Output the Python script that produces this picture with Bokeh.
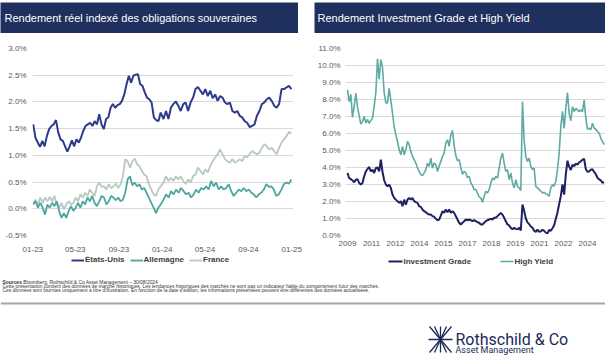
import pandas as pd
import numpy as np
from bokeh.plotting import figure
from bokeh.models import (Range1d, FixedTicker, PrintfTickFormatter, Spacer, Legend, LegendItem)
from bokeh.layouts import column, row
from bokeh.embed import file_html
from bokeh.resources import INLINE
from bokeh.core.properties import value

# ---------------- data ----------------
title_left = "Rendement réel indexé des obligations souveraines"
title_right = "Rendement Investment Grade et High Yield"

# Left chart: real yields (%), 2023 segment and 2024 segment
seg_a_start, seg_a_end = "2023-01-02", "2023-12-28"
seg_b_start, seg_b_end = "2024-01-05", "2024-12-31"

us_a = [1.58,1.33,1.24,1.16,1.27,1.17,1.36,1.49,1.55,1.58,1.66,1.43,1.30,1.27,1.17,1.07,1.17,1.28,1.17,1.30,
        1.24,1.33,1.46,1.55,1.58,1.61,1.55,1.64,1.58,1.77,1.58,1.49,1.68,1.71,1.89,1.96,1.89,1.94,1.96,2.02,
        2.14,2.33,2.49,2.36,2.49,2.51,2.52,2.33,2.30,2.18,2.08,2.05,1.99,1.71,1.66,1.64,1.80]
us_b = [1.68,1.83,1.68,1.89,1.96,2.01,1.93,1.83,1.96,1.99,1.83,1.99,2.08,2.24,2.28,2.21,2.14,2.24,2.11,2.21,
        2.07,2.14,2.02,2.11,2.08,1.99,1.96,1.99,1.83,1.80,1.83,1.74,1.71,1.64,1.61,1.53,1.55,1.58,1.74,1.83,
        1.96,1.99,2.05,2.08,2.02,1.93,1.89,1.96,2.24,2.24,2.27,2.30,2.24]
de_a = [0.08,0.14,0.02,0.11,0.02,-0.11,0.08,0.02,0.11,0.05,0.14,-0.04,-0.17,-0.08,-0.17,-0.04,0.05,-0.04,0.02,0.11,
        0.02,0.14,0.08,0.21,0.14,0.24,0.11,0.05,0.14,0.24,0.21,0.08,0.14,0.24,0.21,0.16,0.21,0.14,0.17,0.30,
        0.55,0.61,0.44,0.49,0.42,0.46,0.36,0.39,0.30,0.21,0.11,0.02,-0.08,0.02,0.08]
de_b = [0.17,0.27,0.21,0.33,0.27,0.36,0.30,0.39,0.33,0.27,0.30,0.21,0.27,0.36,0.30,0.39,0.36,0.42,0.36,0.52,
        0.42,0.49,0.36,0.42,0.36,0.39,0.46,0.33,0.24,0.30,0.36,0.33,0.39,0.33,0.36,0.30,0.27,0.21,0.27,0.30,
        0.36,0.46,0.41,0.42,0.36,0.24,0.27,0.36,0.46,0.49,0.47,0.55]
fr_a = [0.11,0.17,0.08,0.21,0.11,0.21,0.14,0.22,0.14,0.24,0.08,0.02,0.11,-0.01,0.08,0.14,0.08,0.11,0.21,0.14,
        0.27,0.21,0.30,0.24,0.36,0.30,0.24,0.42,0.49,0.41,0.42,0.36,0.46,0.39,0.42,0.47,0.39,0.46,0.61,0.93,
        0.89,0.77,0.89,0.94,0.83,0.80,0.71,0.64,0.61,0.46,0.36,0.27,0.24,0.36,0.42]
fr_b = [0.49,0.61,0.52,0.58,0.52,0.61,0.55,0.61,0.52,0.46,0.55,0.49,0.61,0.64,0.77,0.71,0.64,0.74,0.68,0.80,
        0.89,0.96,1.02,1.11,1.02,0.93,0.89,0.86,0.93,0.86,0.89,0.93,0.89,0.99,0.96,1.02,1.08,1.05,1.02,1.05,
        1.14,1.21,1.17,1.11,1.14,1.08,1.02,1.14,1.24,1.30,1.36,1.44,1.41]
left_names = ["États-Unis", "Allemagne", "France"]
left_ticks = ["2023-01-01", "2023-05-01", "2023-09-01", "2024-01-01", "2024-05-01", "2024-09-01", "2025-01-01"]
left_tick_labels = ["01-23", "05-23", "09-23", "01-24", "05-24", "09-24", "01-25"]
left_yticks = [-0.5, 0.0, 0.5, 1.0, 1.5, 2.0, 2.5, 3.0]

# Right chart: IG and HY yields (%), regular sampling over the axis span
right_start, right_end = 2009.0, 2025.04
ig = [3.68,3.38,3.32,3.24,3.13,3.28,3.32,3.09,2.99,3.09,3.48,3.77,3.91,4.03,3.77,3.87,3.68,3.97,4.00,3.77,
      4.46,3.75,3.25,3.00,2.89,2.99,2.80,2.41,2.21,2.11,2.02,1.92,2.02,1.72,2.11,1.82,2.11,2.21,2.11,2.21,
      2.02,1.96,1.92,1.72,1.68,1.53,1.43,1.37,1.29,1.23,1.23,1.14,1.10,0.98,0.90,0.94,1.17,1.43,1.33,1.53,
      1.37,1.53,1.33,1.43,1.33,1.14,0.94,0.75,0.65,0.75,0.84,0.94,0.90,0.94,0.90,0.84,0.90,
      0.84,0.78,0.75,0.65,0.65,0.75,0.84,0.90,0.94,0.98,0.94,1.04,1.04,1.14,1.23,1.33,1.23,1.04,0.84,0.65,
      0.59,0.45,0.36,0.45,0.39,0.36,0.45,0.30,1.82,1.45,1.00,0.77,0.67,0.53,0.46,0.28,0.21,0.34,0.22,0.25,
      0.34,0.27,0.17,0.13,0.33,0.28,0.43,0.60,0.98,1.35,1.85,2.31,3.00,2.40,3.60,4.40,4.05,3.85,4.16,4.07,
      4.24,4.16,4.30,4.36,4.46,4.50,3.90,3.75,3.77,3.87,3.90,3.74,3.60,3.40,3.30,3.24,3.10,3.13]
hy = [8.56,7.87,8.30,6.95,7.60,8.36,7.55,7.05,6.55,6.70,7.00,6.61,6.84,6.60,6.76,6.90,7.60,8.40,10.40,9.20,
      10.35,9.90,8.40,7.80,7.80,8.66,7.95,7.19,6.41,5.92,5.53,5.04,4.75,5.24,4.75,5.04,5.53,5.34,4.95,4.65,
      4.46,4.26,3.97,3.77,3.58,3.52,3.68,3.87,4.26,4.07,4.55,3.97,4.26,4.16,3.77,4.07,4.36,4.65,4.85,5.43,
      5.63,5.24,5.92,6.18,5.30,4.70,4.40,4.46,4.00,3.60,3.77,3.68,3.40,3.48,3.10,2.95,2.70,
      2.70,2.50,2.27,2.21,1.96,2.31,2.60,2.50,2.70,3.09,3.38,3.28,3.48,3.38,3.97,4.55,4.85,4.26,3.77,3.87,
      3.28,3.68,3.09,2.80,3.28,2.89,2.80,2.65,7.88,5.60,4.65,4.36,4.55,4.07,3.87,3.97,2.89,2.80,2.70,2.60,
      2.50,2.54,2.46,2.41,2.31,2.80,2.99,2.89,3.19,3.87,4.85,6.40,7.30,6.30,7.48,8.40,7.20,6.75,7.58,7.29,
      7.48,7.39,7.29,7.39,7.29,7.97,6.90,6.25,6.31,6.21,6.61,6.31,6.25,6.12,6.02,5.73,5.53,5.34]
right_names = ["Investment Grade", "High Yield"]
right_ticks = [2009.0, 2010.5, 2012.0, 2013.5, 2015.0, 2016.5, 2018.0, 2019.5, 2021.0, 2022.5, 2024.0]
right_tick_labels = ["2009", "2011", "2012", "2014", "2015", "2017", "2018", "2019", "2021", "2022", "2024"]
right_yticks = [0, 1, 2, 3, 4, 5, 6, 7, 8, 9, 10, 11]

sources_label = "Sources"
sources_text = " : Bloomberg, Rothschild & Co Asset Management – 30/08/2024"
disclaimer_1 = ("Cette présentation contient des données de marché historiques. Les tendances historiques des marchés "
                "ne sont pas un indicateur fiable du comportement futur des marchés.")
disclaimer_2 = ("Ces données sont fournies uniquement à titre d'illustration. En fonction de la date d'édition, "
                "les informations présentées peuvent être différentes des données actualisées.")
logo_main = "Rothschild & Co"
logo_sub = "Asset Management"

# ---------------- style ----------------
FONT = "Liberation Sans"
TITLE_BG = "#1f305e"
C_US, C_DE, C_FR = "#2e3a8c", "#4ea6a1", "#b8c9c1"
C_IG, C_HY = "#1f2260", "#5eaaa4"
GRID = "#d9d9d9"
TICK_TXT = "#595959"
LEG_TXT = "#404040"
LOGO = "#1c2a58"


def blank_fig(w, h):
    p = figure(width=w, height=h, x_range=Range1d(0, w), y_range=Range1d(h, 0),
               output_backend="svg", toolbar_location=None, min_border=0,
               x_axis_location=None, y_axis_location=None)
    p.grid.visible = False
    p.outline_line_color = None
    return p


def title_fig(text, w, h, tx):
    p = blank_fig(w, h)
    p.background_fill_color = TITLE_BG
    p.border_fill_color = TITLE_BG
    p.text(x=[tx], y=[h / 2], text=[text], text_color="white", text_font=value(FONT),
           text_font_size="11px", text_baseline="middle", text_align="left")
    return p


def style_axes(p, standoff_x, standoff_y):
    for ax in (p.xaxis[0], p.yaxis[0]):
        ax.axis_line_color = None
        ax.major_tick_line_color = None
        ax.minor_tick_line_color = None
        ax.major_tick_out = 0
        ax.major_tick_in = 0
        ax.major_label_text_font = FONT
        ax.major_label_text_font_size = "8px"
        ax.major_label_text_color = TICK_TXT
    p.xaxis[0].major_label_standoff = standoff_x
    p.yaxis[0].major_label_standoff = standoff_y
    p.xgrid.visible = False
    p.ygrid.grid_line_color = GRID
    p.ygrid.grid_line_width = 1
    p.outline_line_color = None
    p.yaxis[0].formatter = PrintfTickFormatter(format="%.1f%%")


def ts(s):
    return pd.Timestamp(s)

# ---------------- left chart ----------------
pl = figure(width=305, height=223, x_axis_type="datetime",
            x_range=Range1d(ts("2022-12-31"), ts("2025-01-06")), y_range=Range1d(-0.5, 3.0),
            output_backend="svg", toolbar_location=None,
            min_border_left=32, min_border_right=12, min_border_top=14, min_border_bottom=21)
style_axes(pl, 11, 6)
pl.yaxis[0].ticker = FixedTicker(ticks=left_yticks)
tick_ms = [ts(t).value // 10**6 for t in left_ticks]
pl.xaxis[0].ticker = FixedTicker(ticks=tick_ms)
pl.xaxis[0].major_label_overrides = {m: lab for m, lab in zip(tick_ms, left_tick_labels)}

series = {"us": (us_a, us_b, C_US, 2.0), "de": (de_a, de_b, C_DE, 1.8), "fr": (fr_a, fr_b, C_FR, 1.8)}
for key in ["fr", "de", "us"]:
    a, b, col, w = series[key]
    xs = list(pd.date_range(seg_a_start, seg_a_end, periods=len(a))) + \
         list(pd.date_range(seg_b_start, seg_b_end, periods=len(b)))
    pl.line(xs, a + b, line_color=col, line_width=w)

# ---------------- right chart ----------------
pr = figure(width=300, height=223, x_range=Range1d(2008.875, 2025.125), y_range=Range1d(0, 11),
            output_backend="svg", toolbar_location=None,
            min_border_left=40, min_border_right=0, min_border_top=15, min_border_bottom=19)
style_axes(pr, 5, 5)
pr.yaxis[0].ticker = FixedTicker(ticks=right_yticks)
pr.xaxis[0].ticker = FixedTicker(ticks=right_ticks)
pr.xaxis[0].major_label_overrides = {t: lab for t, lab in zip(right_ticks, right_tick_labels)}

xr = np.linspace(right_start, right_end, len(ig))
pr.line(xr, hy, line_color=C_HY, line_width=1.6)
pr.line(xr, ig, line_color=C_IG, line_width=2.0)

# ---------------- footer (legends, sources, logo) ----------------
pf = blank_fig(605, 101)

FS = "4.9px"
pf.text(x=[2], y=[25.5], text=[sources_label], text_font=value(FONT), text_font_size=FS,
        text_font_style="bold", text_color="#333333", text_baseline="middle")
pf.text(x=[20], y=[25.5], text=[sources_text], text_font=value(FONT), text_font_size=FS,
        text_color="#333333", text_baseline="middle")
pf.text(x=[2, 2], y=[29.5, 33.5], text=[disclaimer_1, disclaimer_2], text_font=value(FONT),
        text_font_size=FS, text_color="#333333", text_baseline="middle")
pf.segment(x0=[0], y0=[47], x1=[605], y1=[47], line_color="#a6a6a6", line_width=2)

# right legend (glyph based)
for lab, col, x0, x1, tx, lw in [(right_names[0], C_IG, 388, 402, 403, 2.0),
                                 (right_names[1], C_HY, 500, 513, 514, 1.6)]:
    pf.segment(x0=[x0], y0=[5], x1=[x1], y1=[5], line_color=col, line_width=lw)
    pf.text(x=[tx], y=[5], text=[lab], text_font=value(FONT), text_font_size="8px",
            text_font_style="bold", text_color=LEG_TXT, text_baseline="middle")

# left legend (Legend annotation; sample renderers sit outside the visible range)
samples = [pf.line(x=[-20, -10], y=[-20, -20], line_color=c, line_width=w)
           for c, w in [(C_US, 2.0), (C_DE, 1.8), (C_FR, 1.8)]]
leg_left = Legend(items=[LegendItem(label=n, renderers=[r]) for n, r in zip(left_names, samples)],
                  orientation="horizontal", location=(71, 93),
                  border_line_color=None, background_fill_alpha=0,
                  label_text_font=FONT, label_text_font_size="8px", label_text_font_style="bold",
                  label_text_color=LEG_TXT, glyph_width=13, glyph_height=8, label_height=8,
                  label_standoff=1, spacing=5, padding=0, margin=0)
pf.add_layout(leg_left)

# logo icon (decorative rays)
cx, cy = 440, 83
ray_x = [-11, -6, 0, 6, 11]
pf.segment(x0=[cx] * 5, y0=[cy] * 5, x1=[cx + d for d in ray_x], y1=[70] * 5, line_color=LOGO, line_width=1.3)
pf.segment(x0=[cx] * 5, y0=[cy] * 5, x1=[cx + d for d in ray_x], y1=[96] * 5, line_color=LOGO, line_width=1.3)
pf.segment(x0=[cx - 12], y0=[cy], x1=[cx + 12], y1=[cy], line_color=LOGO, line_width=1.5)
pf.text(x=[455], y=[83], text=[logo_main], text_font=value("Roboto"), text_font_size="16px",
        text_color=LOGO, text_baseline="alphabetic")
pf.text(x=[455], y=[93], text=[logo_sub], text_font=value("Roboto"), text_font_size="9px",
        text_color=LOGO, text_baseline="middle")

# ---------------- layout ----------------
layout = column(
    Spacer(width=605, height=2),
    row(title_fig(title_left, 298, 31, 4), Spacer(width=16, height=31), title_fig(title_right, 291, 31, 3)),
    row(pl, pr),
    pf,
)

open("out.html", "w").write(file_html(layout, INLINE))
